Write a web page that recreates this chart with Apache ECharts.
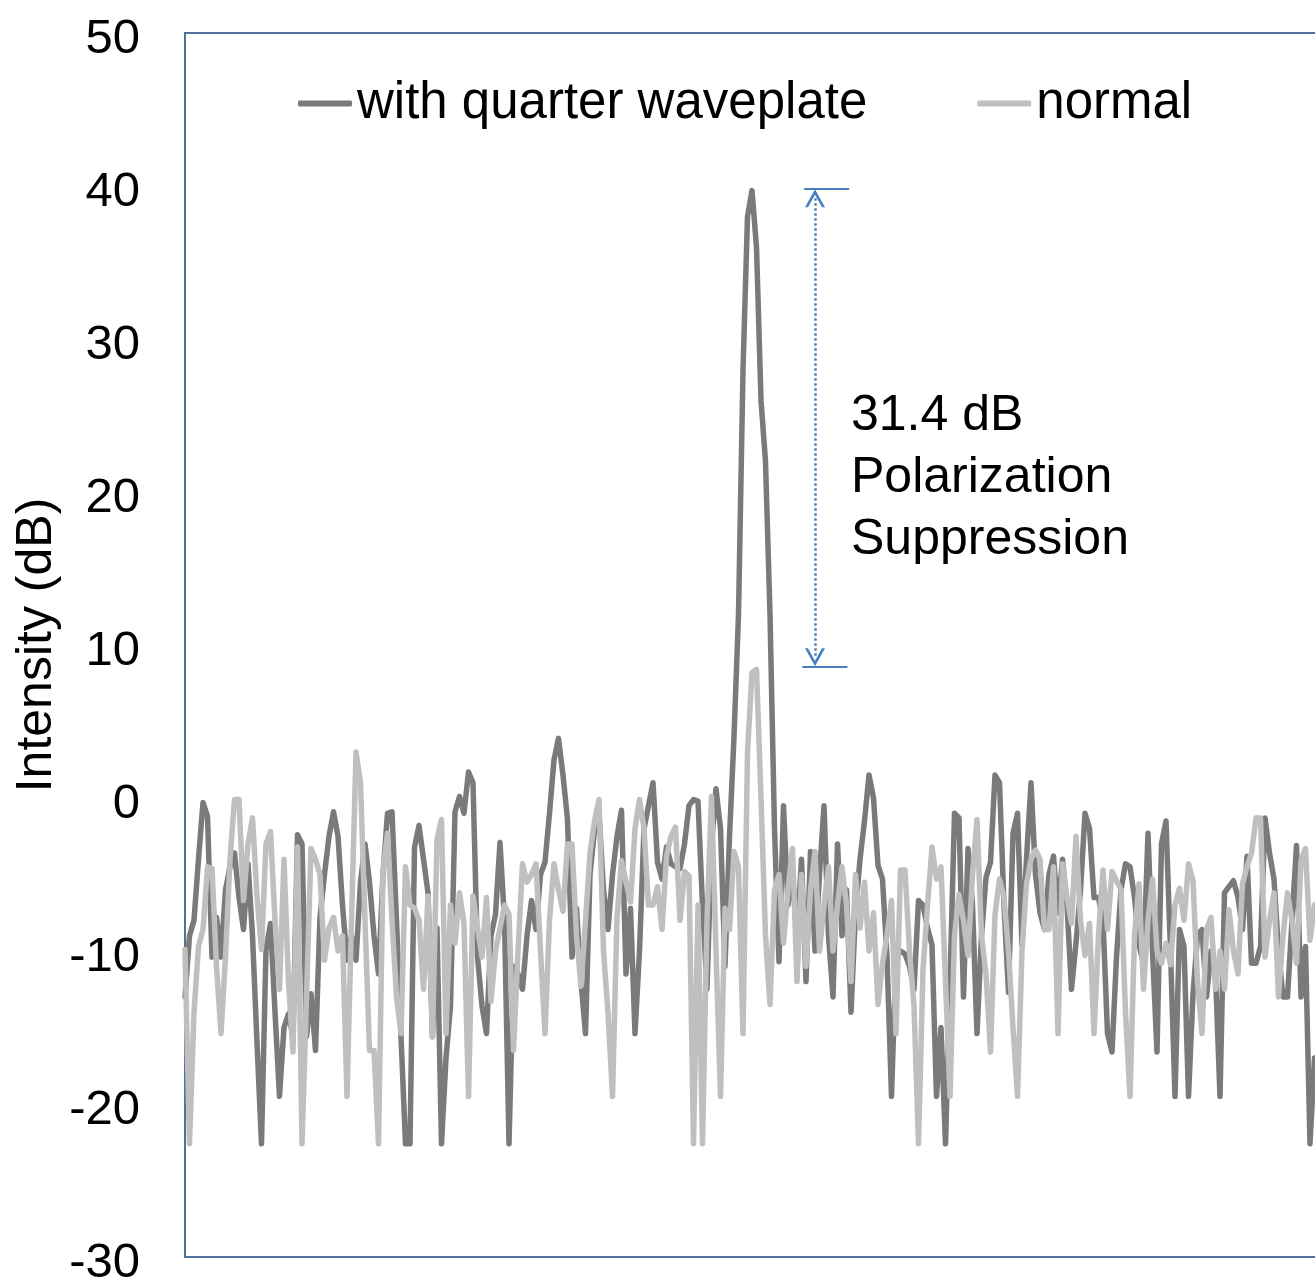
<!DOCTYPE html>
<html>
<head>
<meta charset="utf-8">
<title>Polarization suppression</title>
<script src="https://cdn.jsdelivr.net/npm/echarts@6/dist/echarts.min.js"></script>
<style>
  html, body { margin: 0; padding: 0; background: #fff; }
  #chart { width: 1315px; height: 1282px; }
</style>
</head>
<body>
<div id="chart"></div>
<script>
// sample values (dB), one per sample index
const withQuarter = [
  -13, -9, -8, -4, -0.3, -1.2, -10.4, -7.8, -10.4, -6,
  -4.5, -3.6, -6.5, -8.6, -4.3, -9, -16, -22.6, -9.9, -8.2,
  -14, -19.5, -15, -14.1, -15.6, -2.4, -3, -15.6, -12.8, -16.5,
  -7.8, -5, -2.5, -0.9, -2.5, -7, -10.6, -9, -10.6, -5.5,
  -3, -5.5, -9, -11.5, -5, -1, -0.9, -8, -15.6, -22.6,
  -22.6, -3.2, -1.8, -4, -6.2, -15.6, -8.5, -22.6, -17, -13.6,
  -0.9, 0.1, -1, 1.7, 1, -10.4, -13.6, -15.4, -9, -7.6,
  -2.9, -8, -22.6, -11, -11.5, -12.5, -9, -6.7, -8.6, -5,
  -4.2, -1, 2.5, 3.9, 1.5, -1.4, -10.4, -7.2, -12, -15.4,
  -5, -2.1, -1, -6, -8.6, -5, -2.5, -0.8, -11.5, -7.2,
  -15.4, -10, -2, -0.5, 1.0, -4.2, -5.3, -3.2, -4.3, -4.5,
  -4.6, -3, -0.5, -0.1, -0.2, -7, -12.5, -3, 0.6, -2,
  -11, -2.5, 4, 12, 28, 38, 39.7, 36, 26, 22,
  12, -2, -10.7, -0.5, -7, -5, -9, -4, -12, -3.5,
  -10, -5, -0.5, -9, -13, -3, -9, -6, -14, -7.5,
  -4, -1.5, 1.5, 0, -4.4, -5.3, -10.4, -19.5, -10.4, -10,
  -10.2, -11, -12.5, -6.7, -7, -8.5, -9.6, -19.5, -15, -22.6,
  -12, -1, -1.3, -13, -3.3, -7, -15.4, -9, -5.2, -4.2,
  1.5, 1.0, -7, -12.7, -2.3, -1, -9.6, -4, 1.0, -5,
  -7.5, -8.6, -5, -3.8, -7.5, -4, -7, -12.5, -9.5, -6,
  -1, -2, -6.5, -6.5, -8, -15.4, -16.6, -10.4, -6, -4.3,
  -4.5, -6.5, -9.6, -10.8, -2.3, -10, -16.6, -3, -1.5, -10,
  -19.5, -8.6, -9.7, -19.5, -12.8, -9, -8.6, -13, -10, -11.5,
  -19.5, -6.2, -5.8, -5.4, -6.5, -8.6, -3.8, -10.8, -10.8, -9.7,
  -1.3, -3.6, -5.3, -10, -13, -13, -8, -3.1, -13, -9.7,
  -22.6, -17
];
const normal = [
  -9.9, -22.6, -14, -9.7, -8.6, -4.5, -4.6, -11, -15.4, -10.4,
  -4, -0.1, -0.1, -6.7, -3, -1.3, -6.4, -9.9, -3, -2.2,
  -8, -12.5, -4, -12, -16.6, -3.2, -22.6, -13, -3.3, -4,
  -5, -10.6, -8.5, -7.8, -10, -9, -19.5, -8, 3.0, 1,
  -8, -16.5, -16.5, -22.6, -4.8, -2.3, -8, -13, -15.4, -4.5,
  -7, -7.2, -8, -12.5, -6.4, -15.6, -2.7, -1.4, -15.4, -7,
  -9.5, -6.2, -8.2, -19.5, -6.4, -8.5, -10.4, -6.5, -13.3, -10,
  -8.5, -7, -7.6, -16.5, -10, -4.3, -5.5, -5, -4.3, -10,
  -15.4, -8, -4.3, -6, -7.4, -3, -3, -9, -12.3, -8,
  -3.6, -1.5, -0.1, -10, -14, -19.5, -7.8, -4.1, -5.5, -6.8,
  -2, -0.1, -2, -7, -7, -5.8, -8.6, -3.8, -2.5, -1.9,
  -8, -4.8, -5.1, -22.6, -7, -22.6, -8, 0.1, -10, -19.5,
  -7.2, -8.6, -3.5, -4.5, -15.4, 3, 8.2, 8.4, 0, -9,
  -13.5, -6, -5, -9.5, -6, -3.3, -12, -5, -11, -6,
  -3.5, -10, -7, -4.5, -10, -7, -4.5, -7, -12, -5,
  -8.5, -5.5, -10, -7.5, -13.5, -10.8, -9, -6.7, -15.4, -4.7,
  -4.7, -10, -13.6, -22.6, -11.2, -7, -3.2, -5.3, -4.5, -12,
  -19.5, -9, -6.3, -8, -10.3, -5, -1.4, -9, -11.5, -16.6,
  -7.6, -5.3, -6.5, -10, -15, -19.5, -10, -5.6, -4, -3.4,
  -4, -8.6, -8.6, -4.5, -15.4, -4.3, -6.5, -8.2, -2.5, -8,
  -10.3, -8.2, -15.4, -9, -4.7, -8.6, -4.8, -5.4, -6, -14,
  -19.5, -9, -5.6, -12.5, -8, -5.3, -10, -10.8, -9.5, -10.9,
  -7, -5.9, -8, -4.3, -5.4, -12, -15.4, -8.6, -7.8, -12.5,
  -10, -12.5, -7.3, -10, -11.5, -5.6, -4.5, -3.6, -1.3, -1.3,
  -10.4, -8, -6.2, -13, -9, -6.2, -8, -10.8, -4.1, -3.3,
  -9.3, -7
];
const seriesNames = ['with quarter waveplate', 'normal'];
const yTicks = { min: -30, max: 50, interval: 10 };
// the sweep runs on past the right edge of the picture
const xMax = 253;

// peak level, suppressed level and where the bracket sits (sample index)
const peakLevel = 39.8;
const suppressedLevel = 8.6;
const bracketAt = 140;
const bracketFrom = 137.6;
const bracketTo = 147.6;
const noteText = '31.4 dB\nPolarization\nSuppression';

const font = '"Liberation Sans", Arial, sans-serif';
const toPairs = arr => arr.map((v, i) => [i, v]);

const chart = echarts.init(document.getElementById('chart'));

// open "V" arrow head, pointing up in its own frame
const chevron = 'path://M0,18 L10,0 L20,18 L17,18 L10,5.5 L3,18 Z';
const blue = '#4a7fc1';
// arrow heads are centred on the line ends, pull them in so the tips touch the bars
const headInset = 0.6;

const option = {
  animation: false,
  backgroundColor: '#fff',
  textStyle: { fontFamily: font },
  grid: {
    left: 185,
    right: -8.5,
    top: 33,
    bottom: 25,
    outerBoundsMode: 'none',
    show: true,
    borderColor: '#50709f',
    borderWidth: 2,
    backgroundColor: 'transparent'
  },
  legend: {
    data: seriesNames,
    left: 293,
    top: 73,
    icon: 'roundRect',
    itemWidth: 54,
    itemHeight: 6,
    itemGap: 110,
    textStyle: { fontSize: 51, color: '#000', fontFamily: font }
  },
  xAxis: {
    type: 'value',
    min: 0,
    max: xMax,
    axisLine: { show: false },
    axisTick: { show: false },
    axisLabel: { show: false },
    splitLine: { show: false }
  },
  yAxis: {
    type: 'value',
    min: yTicks.min,
    max: yTicks.max,
    interval: yTicks.interval,
    name: 'Intensity (dB)',
    nameLocation: 'middle',
    nameRotate: 90,
    nameGap: 123,
    nameMoveOverlap: false,
    nameTextStyle: { fontSize: 50, color: '#000', fontFamily: font },
    axisLine: { show: false },
    axisTick: { show: false },
    splitLine: { show: false },
    axisLabel: {
      margin: 45,
      formatter: v => '{t|' + v + '}',
      rich: {
        t: { fontSize: 49, color: '#000', fontFamily: font, padding: [12, 0, 0, 0] }
      }
    }
  },
  series: [
    {
      name: seriesNames[0],
      type: 'line',
      data: toPairs(withQuarter),
      showSymbol: false,
      itemStyle: { color: '#7a7a7a' },
      lineStyle: { width: 5.5, color: '#7a7a7a', cap: 'round', join: 'round' },
      markLine: {
        silent: true,
        symbol: ['none', 'none'],
        symbolSize: [20, 18],
        label: { show: false },
        lineStyle: { color: blue, width: 2, type: 'solid' },
        data: [
          [{ coord: [bracketFrom, peakLevel] }, { coord: [bracketTo, peakLevel] }],
          [{ coord: [bracketFrom - 0.4, suppressedLevel] }, { coord: [bracketTo - 0.4, suppressedLevel] }],
          [
            { coord: [bracketAt, peakLevel - headInset], symbol: chevron, symbolSize: [20, 18] },
            {
              coord: [bracketAt, suppressedLevel + headInset], symbol: chevron, symbolSize: [20, 18],
              lineStyle: { type: 'dotted', width: 2.5, color: blue }
            }
          ]
        ]
      }
    },
    {
      name: seriesNames[1],
      type: 'line',
      data: toPairs(normal),
      showSymbol: false,
      itemStyle: { color: '#bfbfbf' },
      lineStyle: { width: 5.5, color: '#bfbfbf', cap: 'round', join: 'round' }
    }
  ],
  graphic: [
    {
      type: 'text',
      left: 851,
      top: 385,
      style: {
        text: noteText,
        fill: '#000',
        font: '50px ' + font,
        lineHeight: 62
      }
    }
  ]
};

chart.setOption(option);

window.addEventListener('resize', () => {
  chart.resize();
});
</script>
</body>
</html>
